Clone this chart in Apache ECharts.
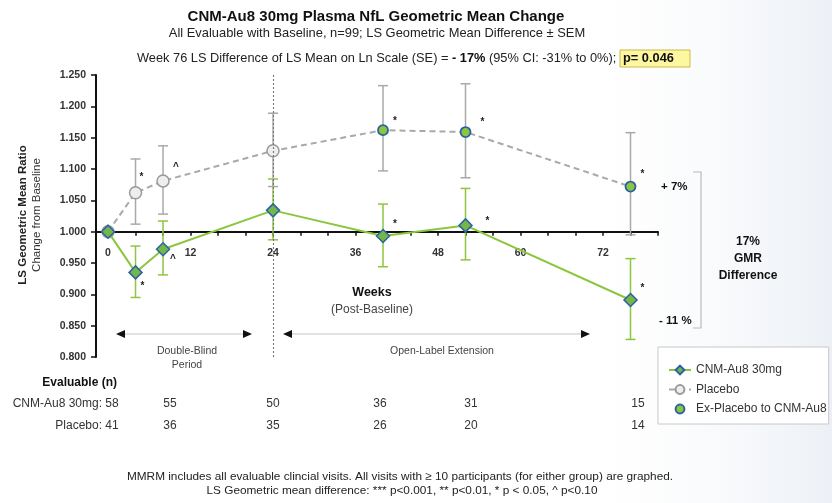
<!DOCTYPE html>
<html>
<head>
<meta charset="utf-8">
<script src="https://cdn.jsdelivr.net/npm/echarts@6/dist/echarts.min.js"></script>
<style>html,body{margin:0;padding:0;background:#fff}#c{width:832px;height:503px}</style>
</head>
<body>
<div id="c"></div>
<script>
// ---- data ----
const cnmWeeks = [0, 4, 8, 24, 40, 52, 76];
const cnmMean  = [1.000, 0.935, 0.972, 1.034, 0.993, 1.010, 0.891];
const cnmLow   = [1.000, 0.895, 0.931, 0.987, 0.944, 0.955, 0.828];
const cnmHigh  = [1.000, 0.977, 1.017, 1.084, 1.044, 1.069, 0.957];
const cnmSig   = ['', '*', '^', '', '*', '*', '*'];

const placeboWeeks = [0, 4, 8, 24];
const placeboMean  = [1.000, 1.062, 1.081, 1.129];
const placeboLow   = [1.000, 1.012, 1.028, 1.072];
const placeboHigh  = [1.000, 1.116, 1.137, 1.189];
const placeboSig   = ['', '*', '^', ''];

const exPlaceboWeeks = [40, 52, 76];
const exPlaceboMean  = [1.162, 1.159, 1.072];
const exPlaceboLow   = [1.097, 1.086, 0.995];
const exPlaceboHigh  = [1.233, 1.236, 1.158];
const exPlaceboSig   = ['*', '*', '*'];

const xTickWeeks  = [0, 4, 8, 12, 16, 20, 24, 28, 32, 36, 40, 44, 48, 52, 56, 60, 64, 68, 72, 76, 80];
const xLabelWeeks = [0, 12, 24, 36, 48, 60, 72];

const nCnm     = [58, 55, 50, 36, 31, 15];
const nPlacebo = [41, 36, 35, 26, 20, 14];

// ---- layout / style ----
const FONT = "'Liberation Sans', Arial, sans-serif";
const BASE = 1; // ratio baseline where the x axis crosses
const GREEN = '#8cc63f', BLUE = '#2b62a3', GREY = '#a9a9a9';
const cnmSigOffset = [[0,0],[7,14],[10,10],[0,0],[12,-12],[22,-4],[12,-12]];
const placeboSigOffset = [[0,0],[6,-16],[13,-14],[0,0]];
const exSigOffset = [[12,-9],[17,-10],[12,-12]];
const tableX = [112, 170, 273, 380, 471, 638];

function pts(weeks, mean, sig, offs) {
  return weeks.map((w, i) => ({
    value: [w, mean[i] - BASE],
    label: { show: !!sig[i], formatter: sig[i] || '', offset: offs[i] }
  }));
}
function bars(weeks, low, high) {
  return weeks.map((w, i) => [w, low[i] - BASE, high[i] - BASE]).filter(d => d[1] !== d[2]);
}
function errRender(color) {
  return function (params, api) {
    const x = api.value(0);
    const lo = api.coord([x, api.value(1)]);
    const hi = api.coord([x, api.value(2)]);
    const hw = 5;
    const st = { stroke: color, lineWidth: 1.5 };
    return { type: 'group', children: [
      { type: 'line', shape: { x1: lo[0], y1: lo[1], x2: hi[0], y2: hi[1] }, style: st },
      { type: 'line', shape: { x1: lo[0]-hw, y1: lo[1], x2: lo[0]+hw, y2: lo[1] }, style: st },
      { type: 'line', shape: { x1: hi[0]-hw, y1: hi[1], x2: hi[0]+hw, y2: hi[1] }, style: st }
    ]};
  };
}
const sigLabel = { position: 'inside', color: '#222', fontSize: 10, fontWeight: 'bold', fontFamily: FONT };

function txt(x, y, text, o, rot) {
  return { type: 'text', x: x, y: y, z: 50, rotation: rot || 0,
    style: Object.assign({ text: text, fontFamily: FONT, fontSize: 12, fill: '#222',
      align: 'center', verticalAlign: 'middle' }, o || {}) };
}
function arrow(x1, x2, y) {
  return [
    { type: 'line', shape: { x1: x1 + 6, y1: y, x2: x2 - 6, y2: y }, style: { stroke: '#c4c4c4', lineWidth: 1 } },
    { type: 'polygon', shape: { points: [[x1, y], [x1 + 9, y - 4], [x1 + 9, y + 4]] }, style: { fill: '#111' } },
    { type: 'polygon', shape: { points: [[x2, y], [x2 - 9, y - 4], [x2 - 9, y + 4]] }, style: { fill: '#111' } }
  ];
}

const graphics = [
  { type: 'rect', shape: { x: 560, y: 0, width: 272, height: 503 }, z: -10, silent: true,
    style: { fill: new echarts.graphic.LinearGradient(0, 0, 1, 0, [
      { offset: 0, color: 'rgba(255,255,255,0)' }, { offset: 1, color: 'rgba(228,234,242,0.7)' }]) } },
  txt(376, 17, 'CNM-Au8 30mg Plasma NfL Geometric Mean Change', { fontSize: 15, fontWeight: 'bold', fill: '#111' }),
  txt(377, 33, 'All Evaluable with Baseline, n=99; LS Geometric Mean Difference \u00b1 SEM', { fontSize: 12.9, fill: '#222' }),
  txt(137, 58, 'Week 76 LS Difference of LS Mean on Ln Scale (SE) = {b|- 17%} (95% CI: -31% to 0%);', {
    align: 'left', fontSize: 12.8, rich: { b: { fontWeight: 'bold', fontSize: 12.8, fontFamily: FONT, fill: '#111' } } }),
  { type: 'rect', shape: { x: 620, y: 50, width: 70, height: 17 }, z: 45, style: { fill: '#fdf7a0', stroke: '#c9b94a', lineWidth: 1 } },
  txt(623, 58.5, 'p= 0.046', { align: 'left', fontSize: 12.8, fontWeight: 'bold', fill: '#111' }),
  txt(23, 215, 'LS Geometric Mean Ratio', { fontSize: 11.5, fontWeight: 'bold' }, Math.PI / 2),
  txt(37, 215, 'Change from Baseline', { fontSize: 11.5, fill: '#333' }, Math.PI / 2),
  txt(372, 293, 'Weeks', { fontSize: 12.5, fontWeight: 'bold', fill: '#111' }),
  txt(372, 310, '(Post-Baseline)', { fontSize: 12, fill: '#444' }),
  ...arrow(116, 252, 334),
  ...arrow(283, 590, 334),
  txt(187, 351, 'Double-Blind', { fontSize: 10.5, fill: '#444' }),
  txt(187, 365, 'Period', { fontSize: 10.5, fill: '#444' }),
  txt(442, 351, 'Open-Label Extension', { fontSize: 10.5, fill: '#444' }),
  txt(661, 187, '+ 7%', { align: 'left', fontSize: 11.5, fontWeight: 'bold', fill: '#111' }),
  txt(659, 321, '- 11 %', { align: 'left', fontSize: 11.5, fontWeight: 'bold', fill: '#111' }),
  { type: 'polyline', shape: { points: [[693, 172], [701, 172], [701, 328], [693, 328]] }, style: { stroke: '#bbb', lineWidth: 1.2, fill: null } },
  txt(748, 242, '17%', { fontSize: 12, fontWeight: 'bold', fill: '#111' }),
  txt(748, 259, 'GMR', { fontSize: 12, fontWeight: 'bold', fill: '#111' }),
  txt(748, 276, 'Difference', { fontSize: 12, fontWeight: 'bold', fill: '#111' }),
  txt(117, 383, 'Evaluable (n)', { align: 'right', fontSize: 12, fontWeight: 'bold', fill: '#111' }),
  txt(102, 404, 'CNM-Au8 30mg:', { align: 'right', fontSize: 12, fill: '#333' }),
  txt(102, 426, 'Placebo:', { align: 'right', fontSize: 12, fill: '#333' }),
  ...nCnm.map((n, i) => txt(tableX[i], 404, String(n), { fontSize: 12, fill: '#333' })),
  ...nPlacebo.map((n, i) => txt(tableX[i], 426, String(n), { fontSize: 12, fill: '#333' })),
  txt(400, 477, 'MMRM includes all evaluable clincial visits. All visits with \u2265 10 participants (for either group) are graphed.', { fontSize: 11.8, fill: '#222' }),
  txt(402, 491, 'LS Geometric mean difference: *** p<0.001, ** p<0.01, * p < 0.05, ^ p<0.10', { fontSize: 11.8, fill: '#222' })
];

const chart = echarts.init(document.getElementById('c'), null, { renderer: 'canvas' });
const option = {
  animation: false,
  backgroundColor: '#ffffff',
  textStyle: { fontFamily: FONT },
  grid: { left: 96, right: 174, top: 75, bottom: 146, containLabel: false },
  xAxis: {
    type: 'value', min: -1.75, max: 80, offset: 0,
    axisLine: { onZero: false, lineStyle: { color: '#111', width: 2 } },
    axisTick: { customValues: xTickWeeks, length: 4, lineStyle: { color: '#111', width: 1.5 } },
    axisLabel: { customValues: xLabelWeeks, margin: 16, fontSize: 10.5, fontWeight: 'bold', color: '#333', fontFamily: FONT },
    splitLine: { show: false }
  },
  yAxis: {
    type: 'value', min: -0.2, max: 0.25, interval: 0.05,
    axisLine: { show: true, onZero: false, lineStyle: { color: '#111', width: 2 } },
    axisTick: { show: true, length: 5, lineStyle: { color: '#111', width: 1.5 } },
    axisLabel: { margin: 10, fontSize: 10.5, fontWeight: 'bold', color: '#333', fontFamily: FONT,
      formatter: v => (v + BASE).toFixed(3) },
    splitLine: { show: false }
  },
  legend: {
    left: 658, top: 347, orient: 'vertical',
    data: ['CNM-Au8 30mg', 'Placebo', 'Ex-Placebo to CNM-Au8'],
    backgroundColor: '#fff', borderColor: '#c8c8c8', borderWidth: 1, borderRadius: 0,
    padding: [17, 2, 9, 10], itemGap: 7.5, itemWidth: 22, itemHeight: 11,
    textStyle: { fontSize: 12, color: '#333', fontFamily: FONT }
  },
  graphic: graphics,
  series: [
    { type: 'custom', name: 'cnmErr', renderItem: errRender(GREEN), data: bars(cnmWeeks, cnmLow, cnmHigh), z: 2, silent: true },
    { type: 'custom', name: 'pErr', renderItem: errRender(GREY),
      data: bars(placeboWeeks, placeboLow, placeboHigh).concat(bars(exPlaceboWeeks, exPlaceboLow, exPlaceboHigh)), z: 2, silent: true },
    { type: 'line', name: 'Placebo', z: 3,
      data: pts(placeboWeeks.concat(exPlaceboWeeks), placeboMean.concat(exPlaceboMean),
                placeboSig.concat(['', '', '']), placeboSigOffset.concat([[0,0],[0,0],[0,0]])),
      symbol: (v, p) => p.dataIndex < placeboWeeks.length ? 'circle' : 'none',
      symbolSize: 12,
      lineStyle: { color: GREY, width: 2, type: [6, 4] },
      itemStyle: { color: '#eeeeee', borderColor: '#9a9a9a', borderWidth: 1.5 },
      label: sigLabel,
      markLine: { silent: true, symbol: 'none', label: { show: false },
        lineStyle: { color: '#777', type: [2, 2], width: 1.1 }, data: [{ xAxis: 24 }] }
    },
    { type: 'line', name: 'Ex-Placebo to CNM-Au8', z: 4,
      data: pts(exPlaceboWeeks, exPlaceboMean, exPlaceboSig, exSigOffset),
      symbol: 'circle', symbolSize: 10,
      lineStyle: { width: 0, color: BLUE },
      itemStyle: { color: GREEN, borderColor: BLUE, borderWidth: 1.8 },
      label: sigLabel
    },
    { type: 'line', name: 'CNM-Au8 30mg', z: 5,
      data: pts(cnmWeeks, cnmMean, cnmSig, cnmSigOffset),
      symbol: 'diamond', symbolSize: 13,
      lineStyle: { color: GREEN, width: 2 },
      itemStyle: { color: '#74b64a', borderColor: BLUE, borderWidth: 1.5 },
      label: sigLabel
    }
  ]
};
chart.setOption(option);
// move the x axis (line, ticks, labels) up to the ratio baseline (1.000) using the y scale
const yZero = chart.convertToPixel({ yAxisIndex: 0 }, 0);
const yMin = chart.convertToPixel({ yAxisIndex: 0 }, -0.2);
chart.setOption({ xAxis: { offset: -(yMin - yZero) } });
</script>
</body>
</html>
